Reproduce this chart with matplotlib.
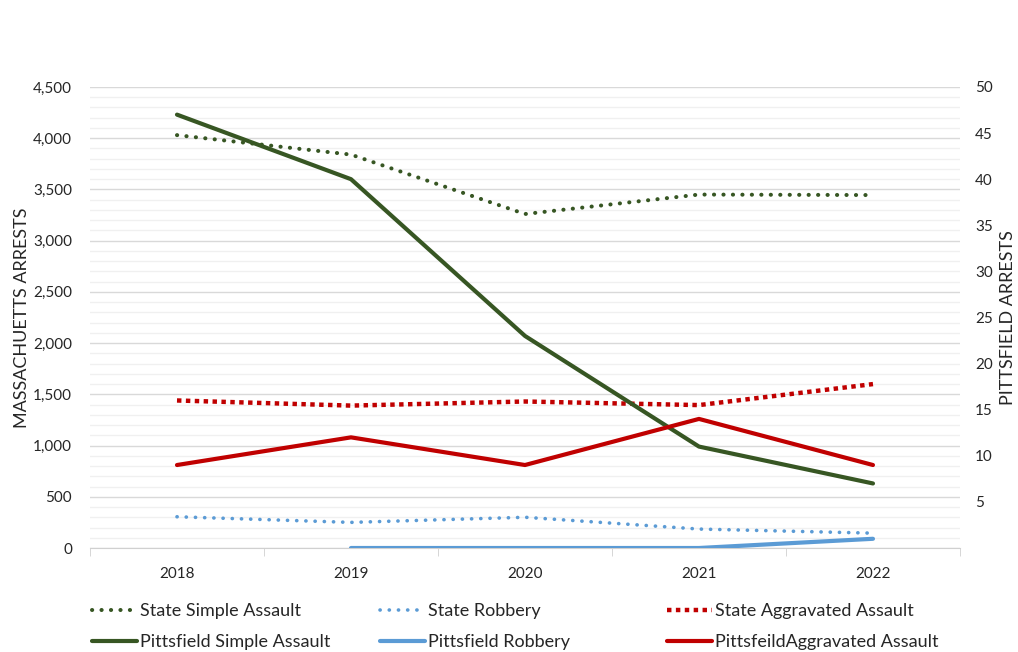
import matplotlib.pyplot as plt
from matplotlib.ticker import MultipleLocator, FixedLocator, NullFormatter
import numpy as np

plt.rcParams['font.family'] = ['Lato', 'DejaVu Sans']

years = ['2018', '2019', '2020', '2021', '2022']

# state (left axis)
state_simple = [4030, 3840, 3260, 3450, 3445]
state_robbery = [305, 250, 300, 185, 145]
state_aggravated = [1440, 1390, 1430, 1395, 1600]

# pittsfield (right axis), no 2018 robbery value
pitts_simple = [47, 40, 23, 11, 7]
pitts_robbery = [np.nan, 0, 0, 0, 1]
pitts_aggravated = [9, 12, 9, 14, 9]

green = '#375623'
blue = '#5B9BD5'
red = '#C00000'
txt = '#262626'

fig = plt.figure(figsize=(10.18, 6.52), dpi=100)
ax = fig.add_axes([0.0884, 0.1595, 0.8546, 0.7071])
ax2 = ax.twinx()

x = np.arange(len(years))

l1, = ax.plot(x, state_simple, color=green, lw=2.9, linestyle=(0, (0.05, 2.3)),
              dash_capstyle='round', label='State Simple Assault')
l2, = ax.plot(x, state_robbery, color=blue, lw=2.6, linestyle=(0, (0.05, 2.5)),
              dash_capstyle='round', label='State Robbery')
l3, = ax.plot(x, state_aggravated, color=red, lw=3.2, linestyle=(0, (1, 1)),
              dash_capstyle='butt', label='State Aggravated Assault')

l4, = ax2.plot(x, pitts_simple, color=green, lw=3.0, solid_capstyle='round',
               label='Pittsfield Simple Assault')
l5, = ax2.plot(x, pitts_robbery, color=blue, lw=3.0, solid_capstyle='round',
               label='Pittsfield Robbery')
l6, = ax2.plot(x, pitts_aggravated, color=red, lw=3.0, solid_capstyle='round',
               label='PittsfeildAggravated Assault')

# left axis
ax.set_xlim(-0.5, len(years) - 0.5)
ax.set_ylim(0, 4500)
ax.yaxis.set_major_locator(MultipleLocator(500))
ax.yaxis.set_minor_locator(MultipleLocator(100))
ax.set_yticklabels([f'{int(v):,}' for v in ax.get_yticks()])
ax.grid(which='major', axis='y', color='#D9D9D9', lw=1.0)
ax.grid(which='minor', axis='y', color='#F0F0F0', lw=1.0)
ax.set_axisbelow(True)
ax.tick_params(axis='y', which='both', length=0, labelsize=11, colors=txt, pad=13)
ax.set_ylabel('MASSACHUETTS ARRESTS', fontsize=13, color=txt, labelpad=2)

# x axis: labels at centres, tick marks at boundaries
ax.set_xticks(x)
ax.set_xticklabels(years)
ax.xaxis.set_minor_locator(FixedLocator(np.arange(-0.5, len(years), 1.0)))
ax.xaxis.set_minor_formatter(NullFormatter())
ax.tick_params(axis='x', which='major', length=0, labelsize=11, colors=txt, pad=14)
ax.tick_params(axis='x', which='minor', length=6, color='#D0D0D0', direction='out')

for s in ['left', 'right', 'top']:
    ax.spines[s].set_visible(False)
    ax2.spines[s].set_visible(False)
ax.spines['bottom'].set_color('#D0D0D0')
ax2.spines['bottom'].set_visible(False)

# right axis
ax2.set_ylim(0, 50)
ax2.yaxis.set_major_locator(FixedLocator(np.arange(5, 51, 5)))
ax2.tick_params(axis='y', length=0, labelsize=11, colors=txt, pad=11)
ax2.set_ylabel('PITTSFIELD ARRESTS', fontsize=13, color=txt, labelpad=5)

# legend in three fixed columns, two rows each
cols = [([l1, l4], 0.083), ([l2, l5], 0.366), ([l3, l6], 0.648)]
for handles, xpos in cols:
    fig.legend(handles=handles, loc='upper left', bbox_to_anchor=(xpos, 0.086),
               ncol=1, frameon=False, fontsize=13, handlelength=2.5,
               handletextpad=0.15, labelspacing=0.85, borderaxespad=0,
               labelcolor=txt)

fig.savefig('out.png', dpi=100)
